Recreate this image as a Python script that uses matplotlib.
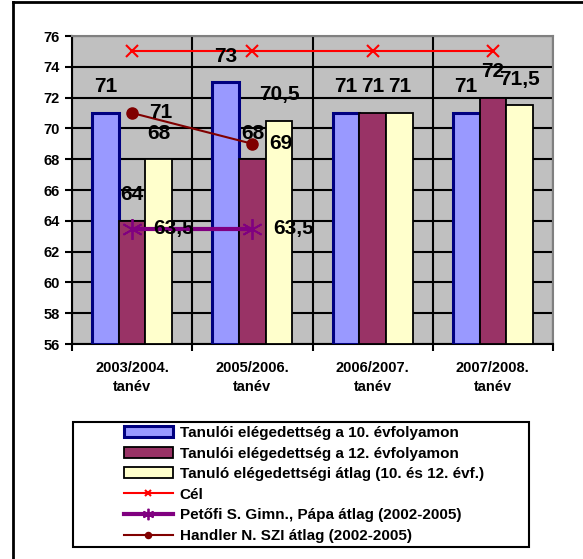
import matplotlib
matplotlib.use("Agg")
import matplotlib.pyplot as plt
import numpy as np
from matplotlib.patches import Patch, Rectangle
from matplotlib.lines import Line2D

plt.rcParams['font.family'] = ['Liberation Sans', 'DejaVu Sans']
plt.rcParams['font.weight'] = 'bold'

# ---- data ----
categories = ["2003/2004.\ntanév", "2005/2006.\ntanév", "2006/2007.\ntanév", "2007/2008.\ntanév"]
grade10 = [71, 73, 71, 71]
grade12 = [64, 68, 71, 72]
avg_grade = [68, 70.5, 71, 71.5]
target = [75, 75, 75, 75]
petofi = [63.5, 63.5]
handler = [71, 69]
yticks = [56, 58, 60, 62, 64, 66, 68, 70, 72, 74, 76]
legend_labels = ["Tanulói elégedettség a 10. évfolyamon",
                 "Tanulói elégedettség a 12. évfolyamon",
                 "Tanuló elégedettségi átlag (10. és 12. évf.)",
                 "Cél",
                 "Petőfi S. Gimn., Pápa átlag (2002-2005)",
                 "Handler N. SZI átlag (2002-2005)"]

def fmt(v):
    s = f"{v:g}"
    return s.replace(".", ",")

W, H = 583, 559
fig = plt.figure(figsize=(W / 100, H / 100), dpi=100)
fig.patch.set_facecolor("white")

ax = fig.add_axes([72 / W, 1 - 344 / H, (553 - 72) / W, (344 - 36) / H])
ax.set_facecolor("#C0C0C0")

ymin, ymax = yticks[0], yticks[-1]
x = np.arange(len(categories))
bw = 0.222

blue_kw = dict(facecolor="#9999FF", edgecolor="#000080", linewidth=2.2)
mag_kw = dict(facecolor="#993366", edgecolor="black", linewidth=1.3)
yel_kw = dict(facecolor="#FFFFCC", edgecolor="black", linewidth=1.3)

g10 = np.array(grade10, dtype=float)
g12 = np.array(grade12, dtype=float)
gav = np.array(avg_grade, dtype=float)

ax.bar(x - bw, g10 - ymin, bw, bottom=ymin, zorder=3, **blue_kw)
ax.bar(x, g12 - ymin, bw, bottom=ymin, zorder=3, **mag_kw)
ax.bar(x + bw, gav - ymin, bw, bottom=ymin, zorder=3, **yel_kw)

lab_kw = dict(textcoords="offset pixels", ha="center", va="center",
              fontsize=15, fontweight="bold", color="black", zorder=6)
for xs, vals in ((x - bw, g10), (x, g12), (x + bw, gav)):
    for xi, v in zip(xs, vals):
        ax.annotate(fmt(v), (xi, v), xytext=(0, 26), **lab_kw)

# lines
ax.plot(x, target, color="#FF0000", lw=1.5, marker="x", markersize=9,
        markeredgewidth=1.5, zorder=4)
xp = x[:len(petofi)]
ax.plot(xp, petofi, color="#800080", lw=3, marker=(6, 2, 0), markersize=15,
        markeredgewidth=1.3, zorder=4)
xh = x[:len(handler)]
ax.plot(xh, handler, color="#800000", lw=1.5, marker="o", markersize=8, zorder=5)

for xi, v in zip(xp, petofi):
    ax.annotate(fmt(v), (xi, v), xytext=(21, 0), textcoords="offset pixels",
                ha="left", va="center", fontsize=15, fontweight="bold", zorder=6)
for xi, v in zip(xh, handler):
    ax.annotate(fmt(v), (xi, v), xytext=(17, 0), textcoords="offset pixels",
                ha="left", va="center", fontsize=15, fontweight="bold", zorder=6)

# axes
ax.set_xlim(-0.5, len(categories) - 0.5)
ax.set_ylim(ymin, ymax)
ax.set_yticks(yticks)
ax.set_yticklabels([str(t) for t in yticks], fontsize=10.5, fontweight="bold")
ax.set_xticks(x)
ax.set_xticklabels(categories, fontsize=10.5, fontweight="bold", linespacing=1.5)
ax.tick_params(axis="x", which="major", length=0, pad=12)
ax.set_xticks(np.arange(-0.5, len(categories), 1.0), minor=True)
ax.tick_params(axis="x", which="minor", length=5, width=1.5, direction="out")
ax.tick_params(axis="y", which="major", length=5, width=1.5, direction="out", pad=4)

ax.yaxis.grid(True, color="black", linewidth=1.5, zorder=1)
ax.xaxis.grid(True, which="minor", color="black", linewidth=1.5, zorder=1)
ax.xaxis.grid(False, which="major")
ax.set_axisbelow(True)

for s in ("left", "bottom"):
    ax.spines[s].set_color("black")
    ax.spines[s].set_linewidth(1.5)
for s in ("top", "right"):
    ax.spines[s].set_color("#808080")
    ax.spines[s].set_linewidth(1.5)

# legend
handles = [Patch(**blue_kw), Patch(**mag_kw), Patch(**yel_kw),
           Line2D([], [], color="#FF0000", lw=1.5, marker="x", markersize=9, markeredgewidth=1.5),
           Line2D([], [], color="#800080", lw=3, marker=(6, 2, 0), markersize=15, markeredgewidth=1.3),
           Line2D([], [], color="#800000", lw=1.5, marker="o", markersize=8)]
leg = fig.legend(handles, legend_labels, loc="upper left",
                 bbox_to_anchor=(124 / W, 1 - 426 / H), frameon=False,
                 prop={"size": 11, "weight": "bold"}, handlelength=3.2,
                 handletextpad=0.45, labelspacing=0.43, borderpad=0,
                 borderaxespad=0, markerscale=0.55)

fig.patches.append(Rectangle((73 / W, 1 - 547 / H), (529 - 73) / W, (547 - 422) / H,
                             transform=fig.transFigure, fill=False,
                             edgecolor="black", linewidth=1.5))

# outer frame
fig.add_artist(Line2D([13 / W, 13 / W], [0, 1 - 2 / H], transform=fig.transFigure,
                      color="black", linewidth=2))
fig.add_artist(Line2D([13 / W, 1], [1 - 2 / H, 1 - 2 / H], transform=fig.transFigure,
                      color="black", linewidth=2))

fig.savefig("out.png", dpi=100)
